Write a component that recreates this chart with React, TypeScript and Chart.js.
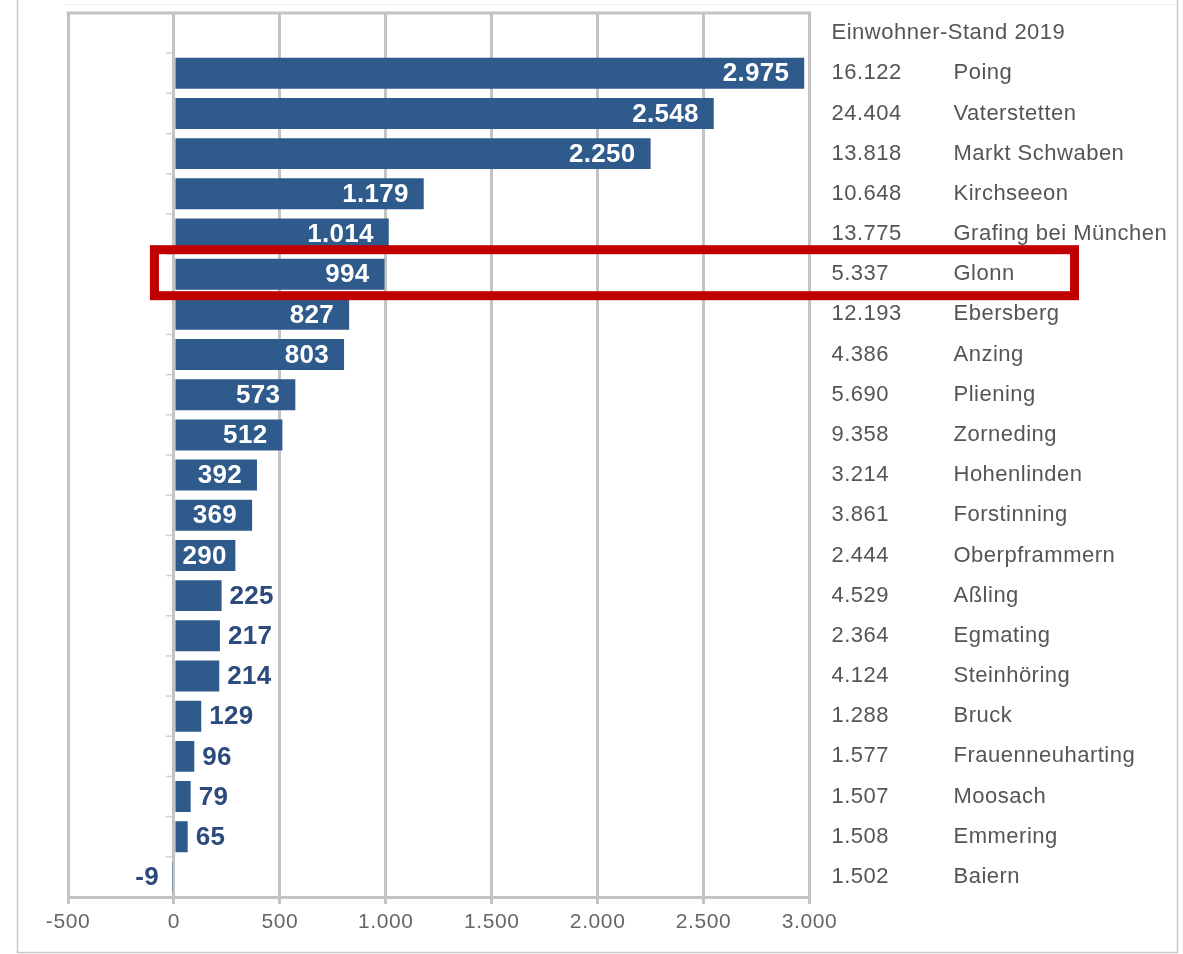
import React, { useEffect, useRef } from 'react';
import { Chart, registerables } from 'chart.js';

Chart.register(...registerables);

const headerLabel = 'Einwohner-Stand 2019';
const municipalities = [
  'Poing', 'Vaterstetten', 'Markt Schwaben', 'Kirchseeon', 'Grafing bei München', 'Glonn',
  'Ebersberg', 'Anzing', 'Pliening', 'Zorneding', 'Hohenlinden', 'Forstinning', 'Oberpframmern',
  'Aßling', 'Egmating', 'Steinhöring', 'Bruck', 'Frauenneuharting', 'Moosach', 'Emmering', 'Baiern',
];
const growth = [2975, 2548, 2250, 1179, 1014, 994, 827, 803, 573, 512, 392, 369, 290, 225, 217, 214, 129, 96, 79, 65, -9];
const population2019 = [
  16122, 24404, 13818, 10648, 13775, 5337, 12193, 4386, 5690, 9358, 3214, 3861, 2444, 4529, 2364,
  4124, 1288, 1577, 1507, 1508, 1502,
];
const highlighted = 'Glonn';
const xMin = -500;
const xMax = 3000;
const xStep = 500;

const FONT = '"Liberation Sans", Arial, sans-serif';
const BAR = '#2e5a8c';
const GRID = '#c4c4c4';

function fmt(v: number): string {
  const s = Math.abs(Math.round(v)).toString().replace(/\B(?=(\d{3})+(?!\d))/g, '.');
  return (v < 0 ? '-' : '') + s;
}

const labels = ['', ...municipalities];
const values: (number | null)[] = [null, ...growth];

const decorPlugin = {
  id: 'decor',
  beforeDraw(chart: any) {
    const ctx = chart.ctx;
    ctx.save();
    ctx.fillStyle = '#ffffff';
    ctx.fillRect(0, 0, chart.width, chart.height);
    ctx.strokeStyle = '#c8c8c8';
    ctx.lineWidth = 1.5;
    ctx.beginPath();
    ctx.moveTo(17.5, 0);
    ctx.lineTo(17.5, 952.5);
    ctx.lineTo(1177.5, 952.5);
    ctx.lineTo(1177.5, 0);
    ctx.stroke();
    ctx.strokeStyle = '#ececec';
    ctx.lineWidth = 1;
    ctx.beginPath();
    ctx.moveTo(65, 4.5);
    ctx.lineTo(1177, 4.5);
    ctx.stroke();
    ctx.restore();
    (ctx as any).letterSpacing = '0.6px';
  },
  beforeDatasetsDraw(chart: any) {
    const ctx = chart.ctx;
    const { left, right, top } = chart.chartArea;
    const xs = chart.scales.x;
    const ys = chart.scales.y;
    ctx.save();
    ctx.strokeStyle = GRID;
    ctx.lineWidth = 3;
    ctx.beginPath();
    ctx.moveTo(left - 1.5, top);
    ctx.lineTo(right + 1.5, top);
    ctx.stroke();
    const x0 = xs.getPixelForValue(0);
    ctx.strokeStyle = '#d0d0d0';
    ctx.lineWidth = 1.5;
    for (let i = 1; i < labels.length; i++) {
      const yb = (ys.getPixelForValue(i - 1) + ys.getPixelForValue(i)) / 2;
      ctx.beginPath();
      ctx.moveTo(x0 - 8, yb);
      ctx.lineTo(x0 - 2, yb);
      ctx.stroke();
    }
    ctx.restore();
  },
  afterDatasetsDraw(chart: any) {
    const ctx = chart.ctx;
    const xs = chart.scales.x;
    const ys = chart.scales.y;
    const { right } = chart.chartArea;
    const x0 = xs.getPixelForValue(0);
    ctx.save();
    ctx.font = `bold 26px ${FONT}`;
    (ctx as any).letterSpacing = '0.3px';
    ctx.textBaseline = 'middle';
    growth.forEach((v, i) => {
      const y = ys.getPixelForValue(i + 1) + 1;
      const xe = xs.getPixelForValue(v);
      const txt = fmt(v);
      const w = ctx.measureText(txt).width;
      const bw = xe - x0;
      if (v >= 0 && bw > w + 30) {
        ctx.fillStyle = '#ffffff';
        ctx.textAlign = 'right';
        ctx.fillText(txt, xe - 15, y);
      } else if (v >= 0 && bw > w + 10) {
        ctx.fillStyle = '#ffffff';
        ctx.textAlign = 'center';
        ctx.fillText(txt, (x0 + xe) / 2, y);
      } else if (v >= 0) {
        ctx.fillStyle = '#2c4a7c';
        ctx.textAlign = 'left';
        ctx.fillText(txt, xe + 8, y);
      } else {
        ctx.fillStyle = '#2c4a7c';
        ctx.textAlign = 'right';
        ctx.fillText(txt, xe - 13, y);
      }
    });
    ctx.font = `22px ${FONT}`;
    (ctx as any).letterSpacing = '0.5px';
    ctx.fillStyle = '#555555';
    ctx.textAlign = 'left';
    const colNum = right + 22;
    const colName = right + 144;
    ctx.fillText(headerLabel, colNum, ys.getPixelForValue(0));
    municipalities.forEach((m, i) => {
      const y = ys.getPixelForValue(i + 1);
      ctx.fillText(fmt(population2019[i]), colNum, y);
      ctx.fillText(m, colName, y);
    });
    const hi = labels.indexOf(highlighted);
    const yc = ys.getPixelForValue(hi);
    ctx.strokeStyle = '#c00000';
    ctx.lineWidth = 9;
    ctx.strokeRect(x0 - 19.5, yc - 24.5, 1074.5 - (x0 - 19.5), 46);
    ctx.restore();
  },
};

export default function App() {
  const ref = useRef<HTMLCanvasElement | null>(null);
  useEffect(() => {
    if (!ref.current) return;
    const chart = new Chart(ref.current, {
      type: 'bar',
      data: {
        labels,
        datasets: [
          {
            data: values as any,
            backgroundColor: BAR,
            borderWidth: 0,
            barPercentage: 0.77,
            categoryPercentage: 1,
          },
        ],
      },
      options: {
        indexAxis: 'y',
        responsive: false,
        animation: false,
        devicePixelRatio: 1,
        layout: { padding: { left: 68, right: 373.5, top: 13, bottom: 0 } },
        plugins: { legend: { display: false }, tooltip: { enabled: false } },
        scales: {
          x: {
            type: 'linear',
            min: xMin,
            max: xMax,
            ticks: {
              stepSize: xStep,
              color: '#666666',
              font: { family: FONT, size: 21 },
              padding: 6,
              callback: (v: any) => fmt(Number(v)),
            },
            grid: { color: GRID, lineWidth: 3, drawTicks: true, tickLength: 7, tickColor: GRID },
            border: { display: true, color: GRID, width: 3 },
            afterFit: (scale: any) => {
              scale.height = 57;
            },
          },
          y: {
            type: 'category',
            display: false,
          },
        },
      },
      plugins: [decorPlugin],
    });
    return () => chart.destroy();
  }, []);
  return (
    <div style={{ position: 'absolute', left: 0, top: 0, width: 1183, height: 954 }}>
      <canvas ref={ref} width={1183} height={954} style={{ display: 'block' }} />
    </div>
  );
}
